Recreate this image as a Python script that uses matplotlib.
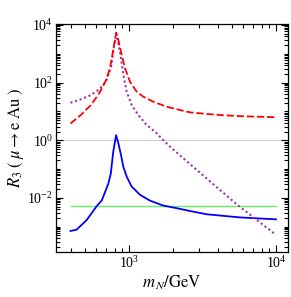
import matplotlib
matplotlib.use('Agg')
import matplotlib.pyplot as plt
import matplotlib.ticker as mticker
import numpy as np

plt.rcParams['font.family'] = ['Liberation Serif', 'DejaVu Serif']
plt.rcParams['mathtext.fontset'] = 'stix'

# m_N in GeV, R_3 values
red_x = [400, 471, 551, 628, 698, 743, 763, 790, 817, 846, 892, 939, 1016, 1128, 1251, 1463,
         1803, 2222, 2600, 3378, 4357, 6000, 10000]
red_y = [3.8, 7.6, 16.8, 43, 123, 322, 695, 1900, 5400, 3020, 910, 316, 107, 48.5, 32.5, 21.8,
         14.6, 11.2, 9.3, 8.2, 7.4, 6.8, 6.3]

purple_x = [400, 471, 551, 628, 698, 755, 790, 817, 832, 869, 915, 964, 1043, 1157, 1319, 1542,
            1712, 1900, 2222, 3378, 5400, 10000]
purple_y = [20, 26.5, 37, 59, 108, 357, 1800, 5000, 3460, 1180, 184, 48.5, 16.7, 7.5, 3.4, 1.75,
            1.0, 0.6, 0.30, 0.047, 6.0e-3, 5.2e-4]

blue_x = [400, 440, 515, 603, 652, 723, 751, 782, 817, 846, 882, 915, 964, 1043, 1188, 1390,
          1712, 2110, 2600, 3378, 5690, 10000]
blue_y = [7.1e-4, 7.9e-4, 1.7e-3, 5.2e-3, 8.1e-3, 0.031, 0.068, 0.42, 1.5, 0.79, 0.31, 0.12,
          0.055, 0.0246, 0.0128, 0.0080, 0.0054, 0.0044, 0.0035, 0.0027, 0.0021, 0.0018]

green_x = [400, 10000]
green_y = [5.2e-3, 5.2e-3]

fig = plt.figure(figsize=(2.91, 2.97), dpi=100)
ax = fig.add_axes([0.192, 0.152, 0.798, 0.767])

ax.axhline(1.0, color='#cccccc', lw=0.8, zorder=1)
ax.plot(green_x, green_y, color='#66ee66', lw=1.0, zorder=2)
ax.plot(blue_x, blue_y, color='#0000ff', lw=1.3, zorder=3)
ax.plot(purple_x, purple_y, color='#9933aa', lw=1.5, dashes=(1, 1.3), zorder=3)
ax.plot(red_x, red_y, color='#ff0000', lw=1.3, dashes=(4, 1.6), zorder=4)

ax.set_xscale('log')
ax.set_yscale('log')
ax.set_xlim(318, 12080)
ax.set_ylim(1.34e-4, 1.08e4)

ax.xaxis.set_major_locator(mticker.FixedLocator([1e3, 1e4]))
ax.xaxis.set_minor_locator(mticker.LogLocator(base=10, subs=np.arange(2, 10), numticks=20))
ax.yaxis.set_major_locator(mticker.FixedLocator([1e-2, 1, 1e2, 1e4]))
ax.yaxis.set_minor_locator(mticker.LogLocator(base=10, subs=np.arange(1, 10), numticks=30))
ax.xaxis.set_major_formatter(mticker.LogFormatterMathtext())
ax.yaxis.set_major_formatter(mticker.LogFormatterMathtext())
ax.xaxis.set_minor_formatter(mticker.NullFormatter())
ax.yaxis.set_minor_formatter(mticker.NullFormatter())

ax.tick_params(which='both', direction='in', top=True, right=True, labelsize=10, width=0.8)
ax.tick_params(which='major', length=5, pad=2)
ax.tick_params(which='minor', length=3)
for s in ax.spines.values():
    s.set_linewidth(0.9)

ax.set_xlabel(r'$m_{\,N}/\mathrm{GeV}$', fontsize=12, labelpad=2)
ax.set_ylabel(r'$R_3\;(\;\mu \rightarrow \mathrm{e\ Au}\;)$', fontsize=12, labelpad=1)

fig.savefig('out.png', dpi=100)
